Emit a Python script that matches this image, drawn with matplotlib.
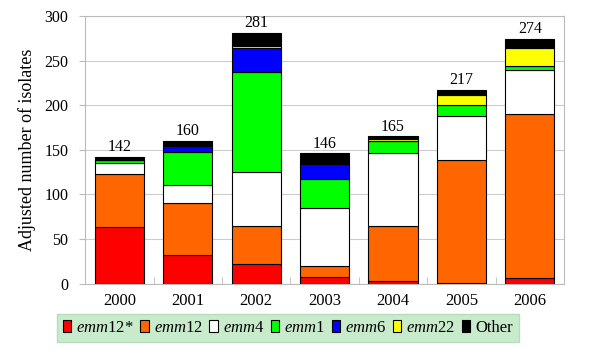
import numpy as np
import matplotlib
matplotlib.use("Agg")
import matplotlib.pyplot as plt

plt.rcParams['font.family'] = ['Liberation Serif', 'DejaVu Serif']
plt.rcParams['mathtext.fontset'] = 'custom'
plt.rcParams['mathtext.rm'] = 'Liberation Serif'
plt.rcParams['mathtext.it'] = 'Liberation Serif:italic'

# Data
years = ["2000", "2001", "2002", "2003", "2004", "2005", "2006"]
emm12_star = [63, 32, 22, 7, 3, 1, 6]
emm12 = [60, 58, 43, 13, 62, 138, 184]
emm4 = [12, 21, 60, 65, 81, 49, 49]
emm1 = [3, 37, 112, 32, 14, 12, 5]
emm6 = [0, 6, 27, 17, 0, 0, 0]
emm22 = [1, 0, 2, 0, 2, 12, 20]
other = [3, 6, 15, 12, 3, 5, 10]
totals = [142, 160, 281, 146, 165, 217, 274]

series = [emm12_star, emm12, emm4, emm1, emm6, emm22, other]
labels = [r"$\mathit{emm}$12*", r"$\mathit{emm}$12", r"$\mathit{emm}$4",
          r"$\mathit{emm}$1", r"$\mathit{emm}$6", r"$\mathit{emm}$22", "Other"]
colors = ["#ff0000", "#ff6600", "#ffffff", "#00ff00", "#0000ff", "#ffff00", "#000000"]

fig = plt.figure(figsize=(6, 3.5), dpi=100)
ax = fig.add_axes([0.142, 0.19, 0.798, 0.764])

x = np.arange(len(years))
bottom = np.zeros(len(years))
for vals, lab, col in zip(series, labels, colors):
    ax.bar(x, vals, 0.72, bottom=bottom, color=col, edgecolor="black",
           linewidth=0.8, label=lab, zorder=3)
    bottom += np.array(vals)

# Totals above each bar
for xi, t in zip(x, totals):
    ax.text(xi, t + 2, str(t), ha="center", va="bottom", fontsize=11.5)

ax.set_ylim(0, 300)
ax.set_xlim(-0.5, len(years) - 0.5)
ax.set_yticks(range(0, 301, 50))
ax.set_xticks(x)
ax.set_xticklabels(years)
ax.set_xticks(np.arange(-0.5, len(years)), minor=True)
ax.tick_params(axis="x", which="major", length=0, labelsize=12, pad=7)
ax.tick_params(axis="x", which="minor", direction="in", length=5, color="#bbbbbb")
ax.tick_params(axis="y", length=4, color="#bbbbbb", labelsize=11.5, pad=8)
ax.set_ylabel("Adjusted number of isolates", fontsize=13, labelpad=6)

ax.grid(axis="y", color="#cccccc", linewidth=0.8, zorder=0)
for s in ax.spines.values():
    s.set_color("#bbbbbb")
    s.set_linewidth(0.8)

leg = fig.legend(loc="center", bbox_to_anchor=(0.48, 0.063), ncol=7,
                 fontsize=12, frameon=True, fancybox=False,
                 handlelength=0.5, handleheight=0.7, handletextpad=0.3,
                 columnspacing=0.4, borderpad=0.35, borderaxespad=0)
leg.get_frame().set_facecolor("#c8ebcc")
leg.get_frame().set_edgecolor("#b8dcbc")
leg.get_frame().set_alpha(1)

fig.savefig("out.png", dpi=100)
